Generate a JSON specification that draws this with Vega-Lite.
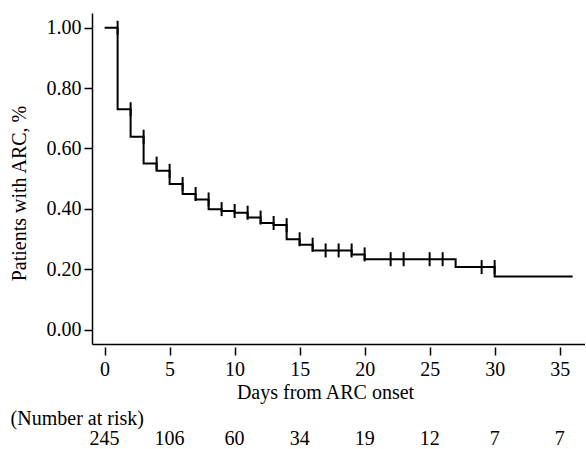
{
  "$schema": "https://vega.github.io/schema/vega-lite/v6.json",
  "padding": {"left": 9, "top": 13, "right": 0, "bottom": 0},
  "config": {
    "font": "'Liberation Serif', 'Times New Roman', serif",
    "view": {"stroke": null},
    "concat": {"spacing": 7},
    "text": {"font": "'Liberation Serif', 'Times New Roman', serif"},
    "axis": {
      "grid": false,
      "domainColor": "black",
      "domainWidth": 1.5,
      "tickColor": "black",
      "tickWidth": 1.5,
      "tickSize": 8,
      "labelColor": "black",
      "labelFontSize": 20,
      "labelFont": "'Liberation Serif', 'Times New Roman', serif",
      "titleColor": "black",
      "titleFontSize": 20,
      "titleFont": "'Liberation Serif', 'Times New Roman', serif",
      "titleFontWeight": "normal"
    },
    "title": {"font": "'Liberation Serif', 'Times New Roman', serif", "fontSize": 20, "fontWeight": "normal", "color": "black"}
  },
  "datasets": {
    "curve": [
      {"day": 0, "surv": 1.0},
      {"day": 1, "surv": 0.730},
      {"day": 2, "surv": 0.639},
      {"day": 3, "surv": 0.550},
      {"day": 4, "surv": 0.526},
      {"day": 5, "surv": 0.482},
      {"day": 6, "surv": 0.449},
      {"day": 7, "surv": 0.431},
      {"day": 8, "surv": 0.399},
      {"day": 9, "surv": 0.393},
      {"day": 10, "surv": 0.387},
      {"day": 11, "surv": 0.371},
      {"day": 12, "surv": 0.353},
      {"day": 13, "surv": 0.346},
      {"day": 14, "surv": 0.299},
      {"day": 15, "surv": 0.281},
      {"day": 16, "surv": 0.262},
      {"day": 19, "surv": 0.249},
      {"day": 20, "surv": 0.233},
      {"day": 27, "surv": 0.207},
      {"day": 30, "surv": 0.176},
      {"day": 36, "surv": 0.176}
    ],
    "censor": [
      {"day": 1, "surv": 1.0},
      {"day": 2, "surv": 0.730},
      {"day": 3, "surv": 0.639},
      {"day": 4, "surv": 0.550},
      {"day": 5, "surv": 0.526},
      {"day": 6, "surv": 0.482},
      {"day": 7, "surv": 0.449},
      {"day": 8, "surv": 0.431},
      {"day": 9, "surv": 0.399},
      {"day": 10, "surv": 0.393},
      {"day": 11, "surv": 0.387},
      {"day": 12, "surv": 0.371},
      {"day": 13, "surv": 0.353},
      {"day": 14, "surv": 0.346},
      {"day": 15, "surv": 0.299},
      {"day": 16, "surv": 0.281},
      {"day": 17, "surv": 0.262},
      {"day": 18, "surv": 0.262},
      {"day": 19, "surv": 0.262},
      {"day": 20, "surv": 0.249},
      {"day": 22, "surv": 0.233},
      {"day": 23, "surv": 0.233},
      {"day": 25, "surv": 0.233},
      {"day": 26, "surv": 0.233},
      {"day": 29, "surv": 0.207},
      {"day": 30, "surv": 0.207}
    ],
    "risk": [
      {"day": 0, "n": 245},
      {"day": 5, "n": 106},
      {"day": 10, "n": 60},
      {"day": 15, "n": 34},
      {"day": 20, "n": 19},
      {"day": 25, "n": 12},
      {"day": 30, "n": 7},
      {"day": 35, "n": 7}
    ]
  },
  "vconcat": [
    {
      "width": 493,
      "height": 331,
      "layer": [
        {
          "data": {"name": "curve"},
          "mark": {"type": "line", "interpolate": "step-after", "color": "black", "strokeWidth": 2},
          "encoding": {
            "x": {
              "field": "day", "type": "quantitative",
              "scale": {"domain": [-0.97, 36.95], "nice": false, "zero": false},
              "axis": {
                "values": [0, 5, 10, 15, 20, 25, 30, 35],
                "title": "Days from ARC onset",
                "titleX": 233,
                "offset": 3,
                "domain": false,
                "labelPadding": 4,
                "titlePadding": 3
              }
            },
            "y": {
              "field": "surv", "type": "quantitative",
              "scale": {"domain": [-0.048, 1.049], "nice": false, "zero": false},
              "axis": {
                "values": [0, 0.2, 0.4, 0.6, 0.8, 1.0],
                "format": ".2f",
                "title": "Patients with ARC, %",
                "titleY": 180,
                "labelPadding": 3,
                "titlePadding": 17
              }
            }
          }
        },
        {
          "data": {"name": "censor"},
          "mark": {"type": "tick", "orient": "vertical", "color": "black", "size": 14, "thickness": 2, "opacity": 1},
          "encoding": {
            "x": {
              "field": "day", "type": "quantitative",
              "axis": {"orient": "bottom", "domain": true, "ticks": false, "labels": false, "title": null}
            },
            "y": {"field": "surv", "type": "quantitative"}
          }
        }
      ],
      "resolve": {"axis": {"x": "independent"}}
    },
    {
      "width": 493,
      "height": 20,
      "title": {"text": "(Number at risk)", "anchor": "start", "dx": -79, "offset": 0},
      "data": {"name": "risk"},
      "mark": {"type": "text", "fontSize": 20, "color": "black", "baseline": "middle"},
      "encoding": {
        "x": {
          "field": "day", "type": "quantitative",
          "scale": {"domain": [-0.97, 36.95], "nice": false, "zero": false},
          "axis": null
        },
        "text": {"field": "n", "type": "quantitative"}
      }
    }
  ]
}
